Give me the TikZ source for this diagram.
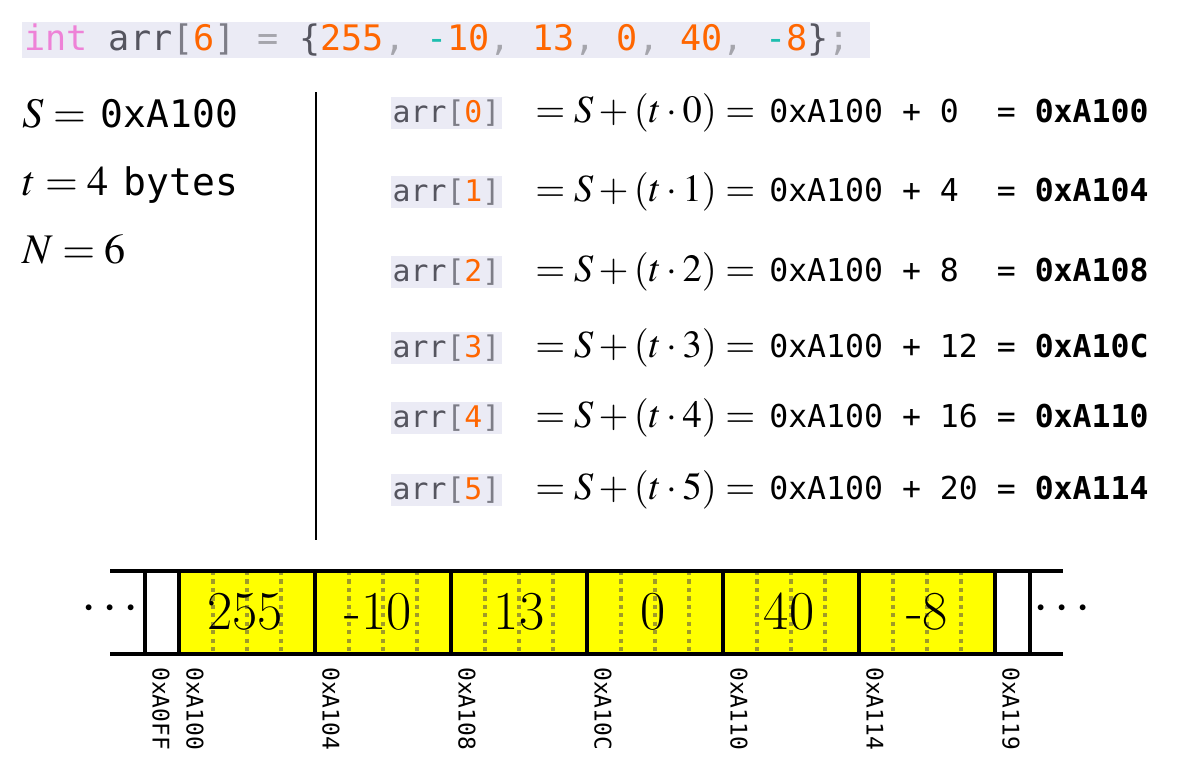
\documentclass[tikz,border=0pt]{standalone}
\usepackage{mathptmx}
\usepackage[no-math]{fontspec}
\setmonofont{DejaVu Sans Mono}

\definecolor{codebg}{RGB}{235,235,245}
\definecolor{kwpink}{RGB}{238,130,215}
\definecolor{idgray}{RGB}{85,85,95}
\definecolor{brgray}{RGB}{125,125,135}
\definecolor{numorange}{RGB}{255,102,0}
\definecolor{negteal}{RGB}{30,190,175}
\definecolor{pungray}{RGB}{165,165,172}
\definecolor{bytegold}{RGB}{160,155,40}
\definecolor{cellyellow}{RGB}{255,255,0}

\newcommand{\hlkw}[1]{\textcolor{kwpink}{#1}}
\newcommand{\hlid}[1]{\textcolor{idgray}{#1}}
\newcommand{\hlbr}[1]{\textcolor{brgray}{#1}}
\newcommand{\hlnum}[1]{\textcolor{numorange}{#1}}
\newcommand{\hlneg}[1]{\textcolor{negteal}{#1}}
\newcommand{\hlpun}[1]{\textcolor{pungray}{#1}}
\newcommand{\arridx}[1]{\hlid{arr}\hlbr{[}\hlnum{#1}\hlbr{]}}

\newcommand{\codesize}{\fontsize{25}{28}\selectfont\ttfamily}
\newcommand{\defsize}{\fontsize{30}{33}\selectfont}
\newcommand{\defmono}{\fontsize{27}{30}\selectfont\ttfamily}
\newcommand{\idxsize}{\fontsize{21.2}{24}\selectfont\ttfamily}
\newcommand{\eqsize}{\fontsize{27.4}{30}\selectfont}
\newcommand{\sumsize}{\fontsize{22.4}{25}\selectfont\ttfamily}
\newcommand{\cellsize}{\fontsize{39}{42}\selectfont}
\newcommand{\lblsize}{\fontsize{16.3}{18}\selectfont\ttfamily}

\begin{document}
\begin{tikzpicture}[x=0.025cm, y=-0.025cm,
    codeline/.style={anchor=base west, inner sep=0pt},
    idxbox/.style={anchor=base west, fill=codebg, inner xsep=1pt, inner ysep=2pt, font=\idxsize},
    eqn/.style={anchor=base west, inner sep=0pt, font=\eqsize},
    addsum/.style={anchor=base west, inner sep=0pt, font=\sumsize},
    cellval/.style={inner sep=0pt, font=\cellsize},
    addrlbl/.style={rotate=-90, anchor=west, inner sep=0pt, font=\lblsize},
    wall/.style={line width=2.6pt},
    bytesep/.style={draw=bytegold, line width=2.4pt, dash pattern=on 3pt off 3pt}]
  \useasboundingbox (0,0) rectangle (1178,777);

  % declaration
  \fill[codebg] (22,22) rectangle (870,58);
  \node[codeline, font=\codesize] (arrdecl) at (24,50) {\hlkw{int} \hlid{arr}\hlbr{[}\hlnum{6}\hlbr{]} \hlpun{=} \hlid{\{}\hlnum{255}\hlpun{,} \hlneg{-}\hlnum{10}\hlpun{,} \hlnum{13}\hlpun{,} \hlnum{0}\hlpun{,} \hlnum{40}\hlpun{,} \hlneg{-}\hlnum{8}\hlid{\}}\hlpun{;}};

  % givens
  \node[codeline, font=\defsize] (sdef) at (22,127) {$S = {}$\hspace{4pt}{\defmono 0xA100}};
  \node[codeline, font=\defsize] (tdef) at (22,195) {$t = 4$\hspace{2pt} {\defmono bytes}};
  \node[codeline, font=\defsize] (ndef) at (22,263) {$N = 6$};

  \coordinate (divtop) at (316,92);
  \coordinate (divbot) at (316,540);
  \draw[line width=1.3pt] (divtop) -- (divbot);

  % address of each element
  \node[idxbox] (idx0) at (391,122) {\arridx{0}};
  \node[eqn] (eq0) at (535,122) {$= S + (t \cdot 0) =$};
  \node[addsum] (sum0) at (769,122) {0xA100 + 0~~= \textbf{0xA100}};

  \node[idxbox] (idx1) at (391,201) {\arridx{1}};
  \node[eqn] (eq1) at (535,201) {$= S + (t \cdot 1) =$};
  \node[addsum] (sum1) at (769,201) {0xA100 + 4~~= \textbf{0xA104}};

  \node[idxbox] (idx2) at (391,281) {\arridx{2}};
  \node[eqn] (eq2) at (535,281) {$= S + (t \cdot 2) =$};
  \node[addsum] (sum2) at (769,281) {0xA100 + 8~~= \textbf{0xA108}};

  \node[idxbox] (idx3) at (391,357) {\arridx{3}};
  \node[eqn] (eq3) at (535,357) {$= S + (t \cdot 3) =$};
  \node[addsum] (sum3) at (769,357) {0xA100 + 12 = \textbf{0xA10C}};

  \node[idxbox] (idx4) at (391,427) {\arridx{4}};
  \node[eqn] (eq4) at (535,427) {$= S + (t \cdot 4) =$};
  \node[addsum] (sum4) at (769,427) {0xA100 + 16 = \textbf{0xA110}};

  \node[idxbox] (idx5) at (391,499) {\arridx{5}};
  \node[eqn] (eq5) at (535,499) {$= S + (t \cdot 5) =$};
  \node[addsum] (sum5) at (769,499) {0xA100 + 20 = \textbf{0xA114}};

  % memory strip
  \fill[cellyellow] (179,571) rectangle (995,654);
  \draw[bytesep] (213,571) -- (213,654) (247,571) -- (247,654) (281,571) -- (281,654);
  \draw[bytesep] (349,571) -- (349,654) (383,571) -- (383,654) (417,571) -- (417,654);
  \draw[bytesep] (485,571) -- (485,654) (519,571) -- (519,654) (553,571) -- (553,654);
  \draw[bytesep] (621,571) -- (621,654) (655,571) -- (655,654) (689,571) -- (689,654);
  \draw[bytesep] (757,571) -- (757,654) (791,571) -- (791,654) (825,571) -- (825,654);
  \draw[bytesep] (893,571) -- (893,654) (927,571) -- (927,654) (961,571) -- (961,654);

  \draw[wall] (110,571) -- (1063,571);
  \draw[wall] (110,654) -- (1063,654);
  \draw[wall] (145,571) -- (145,654);
  \draw[wall] (179,571) -- (179,654);
  \draw[wall] (315,571) -- (315,654);
  \draw[wall] (451,571) -- (451,654);
  \draw[wall] (587,571) -- (587,654);
  \draw[wall] (723,571) -- (723,654);
  \draw[wall] (859,571) -- (859,654);
  \draw[wall] (995,571) -- (995,654);
  \draw[wall] (1030,571) -- (1030,654);

  \node[cellval] (val0) at (245,612) {255};
  \node[cellval] (val1) at (378,612) {-10};
  \node[cellval] (val2) at (519,612) {13};
  \node[cellval] (val3) at (653,612) {0};
  \node[cellval] (val4) at (789,612) {40};
  \node[cellval] (val5) at (927,612) {-8};

  \node[cellval] (dotsl) at (110,610) {$\cdots$};
  \node[cellval] (dotsr) at (1062,610) {$\cdots$};

  % addresses
  \node[addrlbl] (a0ff) at (161,667) {0xA0FF};
  \node[addrlbl] (a100) at (195,667) {0xA100};
  \node[addrlbl] (a104) at (331,667) {0xA104};
  \node[addrlbl] (a108) at (467,667) {0xA108};
  \node[addrlbl] (a10c) at (603,667) {0xA10C};
  \node[addrlbl] (a110) at (739,667) {0xA110};
  \node[addrlbl] (a114) at (875,667) {0xA114};
  \node[addrlbl] (a119) at (1011,667) {0xA119};
\end{tikzpicture}
\end{document}
